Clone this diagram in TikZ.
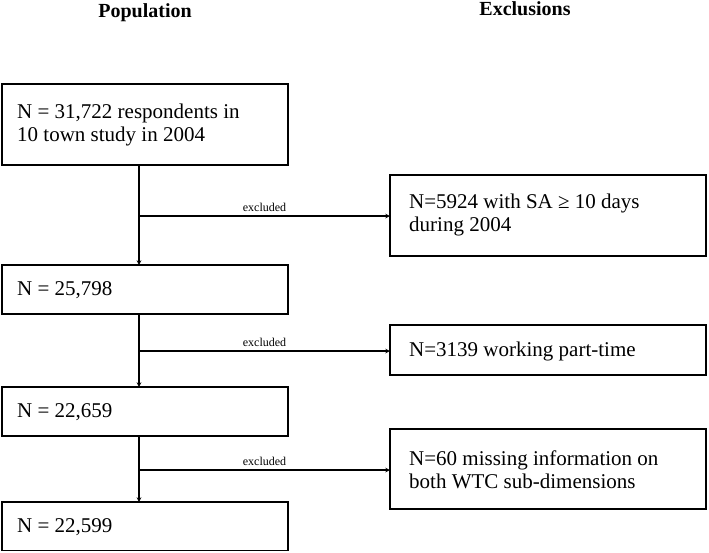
\documentclass[tikz,border=0pt]{standalone}
\usepackage{fontspec}
\setmainfont{Liberation Serif}
\begin{document}
\begin{tikzpicture}[x=1pt,y=-1pt,
 frame/.style={line width=1.1pt},
 txt/.style={anchor=west,align=left,inner sep=0pt,font=\fontsize{21}{23.5}\selectfont},
 hdr/.style={font=\bfseries\fontsize{20}{22}\selectfont},
 arr/.style={->,line width=1.1pt,>=stealth},
 lab/.style={font=\fontsize{12}{13}\selectfont,above=1pt}]
\useasboundingbox (0,0) rectangle (709,552);
\node[hdr] (hp) at (145,13) {Population};
\node[hdr] (he) at (525,9) {Exclusions};
\draw[frame] (2,84) rectangle (288,165);
\node[txt] (b1) at (17,125) {N = 31,722 respondents in\\10 town study in 2004};
\draw[frame] (2,265) rectangle (288,314);
\node[txt] (b2) at (17,290) {N = 25,798};
\draw[frame] (2,387) rectangle (288,436);
\node[txt] (b3) at (17,412) {N = 22,659};
\draw[frame] (2,502) rectangle (288,550.5);
\node[txt] (b4) at (17,527) {N = 22,599};
\draw[frame] (390,175) rectangle (706,256);
\node[txt] (r1) at (409,215) {N=5924 with SA ≥ 10 days\\during 2004};
\draw[frame] (390,325) rectangle (706,375);
\node[txt] (r2) at (409,351) {N=3139 working part-time};
\draw[frame] (390,429) rectangle (706,509);
\node[txt] (r3) at (409,470) {N=60 missing information on\\both WTC sub-dimensions};
\coordinate (c1) at (139,165); \coordinate (c2) at (139,265);
\coordinate (c3) at (139,314); \coordinate (c4) at (139,387);
\coordinate (c5) at (139,436); \coordinate (c6) at (139,502);
\coordinate (e1) at (139,216); \coordinate (f1) at (390,216);
\coordinate (e2) at (139,351); \coordinate (f2) at (390,351);
\coordinate (e3) at (139,470); \coordinate (f3) at (390,470);
\draw[arr] (c1) -- (c2);
\draw[arr] (c3) -- (c4);
\draw[arr] (c5) -- (c6);
\draw[arr] (e1) -- node[lab]{excluded} (f1);
\draw[arr] (e2) -- node[lab]{excluded} (f2);
\draw[arr] (e3) -- node[lab]{excluded} (f3);
\end{tikzpicture}
\end{document}
